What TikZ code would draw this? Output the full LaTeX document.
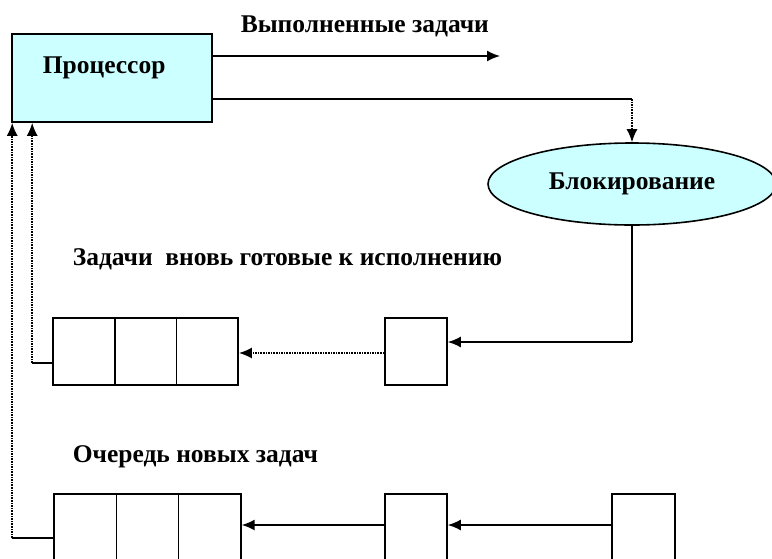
\documentclass[tikz,border=0pt]{standalone}
\usepackage{fontspec}
\setmainfont{Liberation Serif}
\usetikzlibrary{shapes.geometric,arrows.meta}
\definecolor{procfill}{HTML}{CCFFFF}
\begin{document}
\begin{tikzpicture}[x=1pt,y=-1pt,
  line width=1.6pt,
  lbl/.style={inner sep=0pt,font=\fontsize{25.5}{28}\selectfont\bfseries},
  procbox/.style={draw,fill=procfill,minimum width=200pt,minimum height=88pt,inner sep=0pt},
  blockell/.style={ellipse,draw,fill=procfill,minimum width=288pt,minimum height=82pt,inner sep=0pt,
    font=\fontsize{25.5}{28}\selectfont\bfseries},
  cellA/.style={draw,minimum width=61.7pt,minimum height=67pt,inner sep=0pt},
  cellB/.style={draw,minimum width=62.3pt,minimum height=80pt,inner sep=0pt},
  tip/.style={-{Latex[length=13pt,width=11pt]}},
  ret/.style={densely dotted},
]
\useasboundingbox (0,0) rectangle (772,558);

% processor and its outputs
\node[procbox] (proc) at (112,78) {};
\node[lbl,anchor=base west] (proclbl) at (42,73) {Процессор};
\node[lbl,anchor=base west] (donelbl) at (240,32) {Выполненные задачи};
\coordinate (done) at (500,56);
\draw[tip] ([yshift=22pt]proc.east) -- (done);

% blocking
\node[blockell] (block) at (632,184) {\raisebox{3pt}{Блокирование}};
\coordinate (turn) at (block.north |- 0,99);
\draw ([yshift=-21pt]proc.east) -- (turn);
\draw[tip,ret] (turn) -- (block.north);

% tasks ready again
\node[lbl,anchor=base west] (readylbl) at (72,265) {Задачи\ \ вновь готовые к исполнению};
\node[cellA] (qa1) at (83.85,351.5) {};
\node[cellA] (qa2) at (145.55,351.5) {};
\node[cellA] (qa3) at (207.25,351.5) {};
\node[cellA,minimum width=62pt] (ra) at (416,351.5) {};
\coordinate (bturn) at (block.south |- 0,342);
\draw (block.south) -- (bturn);
\draw[tip] (bturn) -- ([yshift=9.5pt]ra.east);
\draw[tip,densely dotted] ([yshift=-1.5pt]ra.west) -- ([yshift=-1.5pt]qa3.east);

% new tasks queue
\node[lbl,anchor=base west] (newlbl) at (72,462) {Очередь новых задач};
\node[cellB] (qb1) at (85.15,534) {};
\node[cellB] (qb2) at (147.45,534) {};
\node[cellB] (qb3) at (209.75,534) {};
\node[cellB,minimum width=62pt] (nb1) at (416,534) {};
\node[cellB,minimum width=63pt] (nb2) at (643.5,534) {};
\draw[tip] ([yshift=9pt]nb2.west) -- ([yshift=9pt]nb1.east);
\draw[tip] ([yshift=9pt]nb1.west) -- ([yshift=9pt]qb3.east);

% returns to the processor
\coordinate (ra-turn) at ([xshift=21pt]proc.south west |- 0,363);
\draw ([yshift=-11.5pt]qa1.west) -- (ra-turn);
\draw[tip,ret] (ra-turn) -- ([xshift=21pt]proc.south west);
\coordinate (nb-turn) at ([xshift=1pt]proc.south west |- 0,538);
\draw ([yshift=-4pt]qb1.west) -- (nb-turn);
\draw[tip,ret] (nb-turn) -- ([xshift=1pt]proc.south west);
\end{tikzpicture}
\end{document}
